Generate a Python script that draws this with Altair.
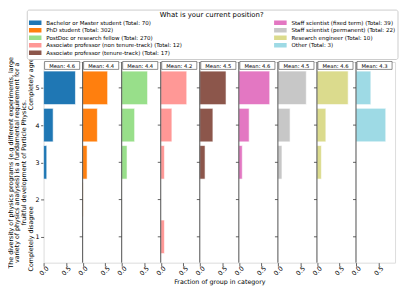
import altair as alt
import pandas as pd

# ---------------- data ----------------
POSITIONS = [
    "Bachelor or Master student",
    "PhD student",
    "PostDoc or research fellow",
    "Associate professor (non tenure-track)",
    "Associate professor (tenure-track)",
    "Staff scientist (fixed term)",
    "Staff scientist (permanent)",
    "Research engineer",
    "Other",
]
TOTALS = [70, 302, 270, 12, 17, 39, 22, 10, 3]
COLORS = ["#1f77b4", "#ff7f0e", "#98df8a", "#ff9896", "#8c564b",
          "#e377c2", "#c7c7c7", "#dbdb8d", "#9edae5"]
MEANS = [4.6, 4.4, 4.4, 4.2, 4.5, 4.6, 4.5, 4.6, 4.3]
LEVELS = [1, 2, 3, 4, 5]
# fraction of each group answering level 1..5
FRACTIONS = [
    [0.0, 0.0, 0.071, 0.214, 0.714],
    [0.0, 0.01, 0.10, 0.33, 0.56],
    [0.0, 0.004, 0.12, 0.29, 0.58],
    [0.083, 0.0, 0.083, 0.25, 0.583],
    [0.0, 0.0, 0.118, 0.294, 0.588],
    [0.0, 0.0, 0.077, 0.231, 0.692],
    [0.0, 0.0, 0.091, 0.273, 0.636],
    [0.0, 0.0, 0.10, 0.20, 0.70],
    [0.0, 0.0, 0.0, 0.667, 0.333],
]
X_TICKS = [0.0, 0.5]
LEGEND_TITLE = "What is your current position?"
X_TITLE = "Fraction of group in category"
Y_TITLE = [
    "The diversity of physics programs (e.g different experiments, large",
    "variety of physics analyses) is a fundamental requirement for a",
    "fruitful development of Particle Physics.",
    "Completely disagree" + "\u00a0" * 48 + "Completely agree",
]

# ---------------- layout / style ----------------
PANEL_SPAN = 0.875          # x-range of one panel (data units)
Y_DOMAIN = [0.305, 5.695]
BAR_H = 0.9
PANEL_W = 39.5
N = len(POSITIONS)
W = PANEL_W * N
H = 203
PX = PANEL_W / PANEL_SPAN   # pixels per data unit
TICK_LEN = 3 / PX
FONT = "DejaVu Sans"
SPINE = "#3a3a3a"

labels = [f"{p} (Total: {t})" for p, t in zip(POSITIONS, TOTALS)]

rows = []
for i, lab in enumerate(labels):
    for lvl, f in zip(LEVELS, FRACTIONS[i]):
        if f > 0:
            rows.append({"pos": lab, "p": i, "level": lvl, "frac": f})
df = pd.DataFrame(rows)

mean_df = pd.DataFrame({"p": list(range(N)), "mean": MEANS})
mean_df["label"] = [f"Mean: {m}" for m in MEANS]
sep_df = pd.DataFrame({"b": list(range(1, N))})
tick_df = pd.DataFrame([{"b": b, "level": l} for b in range(1, N) for l in LEVELS])

xscale = alt.Scale(domain=[0, N * PANEL_SPAN], nice=False, zero=False)
yscale = alt.Scale(domain=Y_DOMAIN, nice=False, zero=False)
x_values = [p * PANEL_SPAN + t for p in range(N) for t in X_TICKS]

xaxis = alt.Axis(
    values=x_values,
    labelExpr=f"format(datum.value % {PANEL_SPAN}, '.1f')",
    labelAngle=-45, labelAlign="center", labelBaseline="middle",
    labelPadding=4.5, labelFontSize=6.4, labelColor="black", labelFont=FONT,
    tickSize=3.5, tickColor=SPINE, tickWidth=0.8, domain=False, grid=False,
    title=X_TITLE, titleFont=FONT, titleFontSize=6.4, titleFontWeight="normal",
    titleColor="black", titlePadding=2.5,
)
yaxis = alt.Axis(
    values=LEVELS, format="d", labelFontSize=6.4, labelColor="black", labelFont=FONT,
    tickSize=3, tickColor=SPINE, tickWidth=0.8, labelPadding=1.5, domain=False, grid=False,
    title=Y_TITLE, titleFont=FONT, titleFontSize=6.4, titleLineHeight=6.9,
    titleFontWeight="normal", titleColor="black", titlePadding=1.5,
)

legend = alt.Legend(
    title=LEGEND_TITLE, orient="none", legendX=-17, legendY=-53, columns=2,
    columnPadding=92, rowPadding=0.6, clipHeight=6.6,
    symbolType="M-1,-0.35H1V0.35H-1Z", symbolSize=161, symbolStrokeWidth=0,
    labelFont=FONT, labelFontSize=5.6, labelOffset=4.7, labelColor="black", labelLimit=0,
    titleFont=FONT, titleFontSize=7.0, titleFontWeight="normal", titleColor="black",
    titleAnchor="middle", titlePadding=1.0, padding=2,
    fillColor="white", strokeColor="#cccccc", cornerRadius=2,
)

bars = alt.Chart(df).transform_calculate(
    x0=f"datum.p * {PANEL_SPAN}",
    x1=f"datum.p * {PANEL_SPAN} + datum.frac",
    y0=f"datum.level - {BAR_H / 2}",
    y1=f"datum.level + {BAR_H / 2}",
).mark_bar(stroke="white", strokeWidth=0.6).encode(
    x=alt.X("x0:Q", scale=xscale, axis=xaxis),
    x2="x1:Q",
    y=alt.Y("y0:Q", scale=yscale, axis=yaxis),
    y2="y1:Q",
    color=alt.Color("pos:N", scale=alt.Scale(domain=labels, range=COLORS), legend=legend),
)

seps = alt.Chart(sep_df).transform_calculate(
    bx=f"datum.b * {PANEL_SPAN}"
).mark_rule(color=SPINE, strokeWidth=0.9).encode(
    x=alt.X("bx:Q", scale=xscale, axis=xaxis)
)

ticks = alt.Chart(tick_df).transform_calculate(
    bx=f"datum.b * {PANEL_SPAN}",
    bx0=f"datum.b * {PANEL_SPAN} - {TICK_LEN}",
).mark_rule(color=SPINE, strokeWidth=0.8).encode(
    x=alt.X("bx0:Q", scale=xscale, axis=xaxis),
    x2="bx:Q",
    y=alt.Y("level:Q", scale=yscale, axis=yaxis),
)

boxes = alt.Chart(mean_df).transform_calculate(
    bl=f"datum.p * {PANEL_SPAN} + {1.0 / PX}",
    br=f"(datum.p + 1) * {PANEL_SPAN} - {3.0 / PX}",
).mark_rect(fill="white", stroke="#444444", strokeWidth=0.6).encode(
    x=alt.X("bl:Q", scale=xscale, axis=xaxis),
    x2="br:Q",
    y=alt.value(-0.5),
    y2=alt.value(7.5),
)

texts = alt.Chart(mean_df).transform_calculate(
    cx=f"datum.p * {PANEL_SPAN} + {PANEL_SPAN / 2 - 1.0 / PX}",
).mark_text(font=FONT, fontSize=5.3, color="black", baseline="middle", align="center").encode(
    x=alt.X("cx:Q", scale=xscale, axis=xaxis),
    y=alt.value(3.6),
    text="label:N",
)

chart = alt.layer(bars, seps, ticks, boxes, texts).properties(
    width=W, height=H,
    autosize=alt.AutoSizeParams(type="none"),
    padding={"left": 36, "top": 53, "right": 4, "bottom": 23},
).configure_view(stroke=SPINE, strokeWidth=0.9).configure(background="white")

chart.save("out.html", embed_options={"renderer": "svg", "actions": False})
